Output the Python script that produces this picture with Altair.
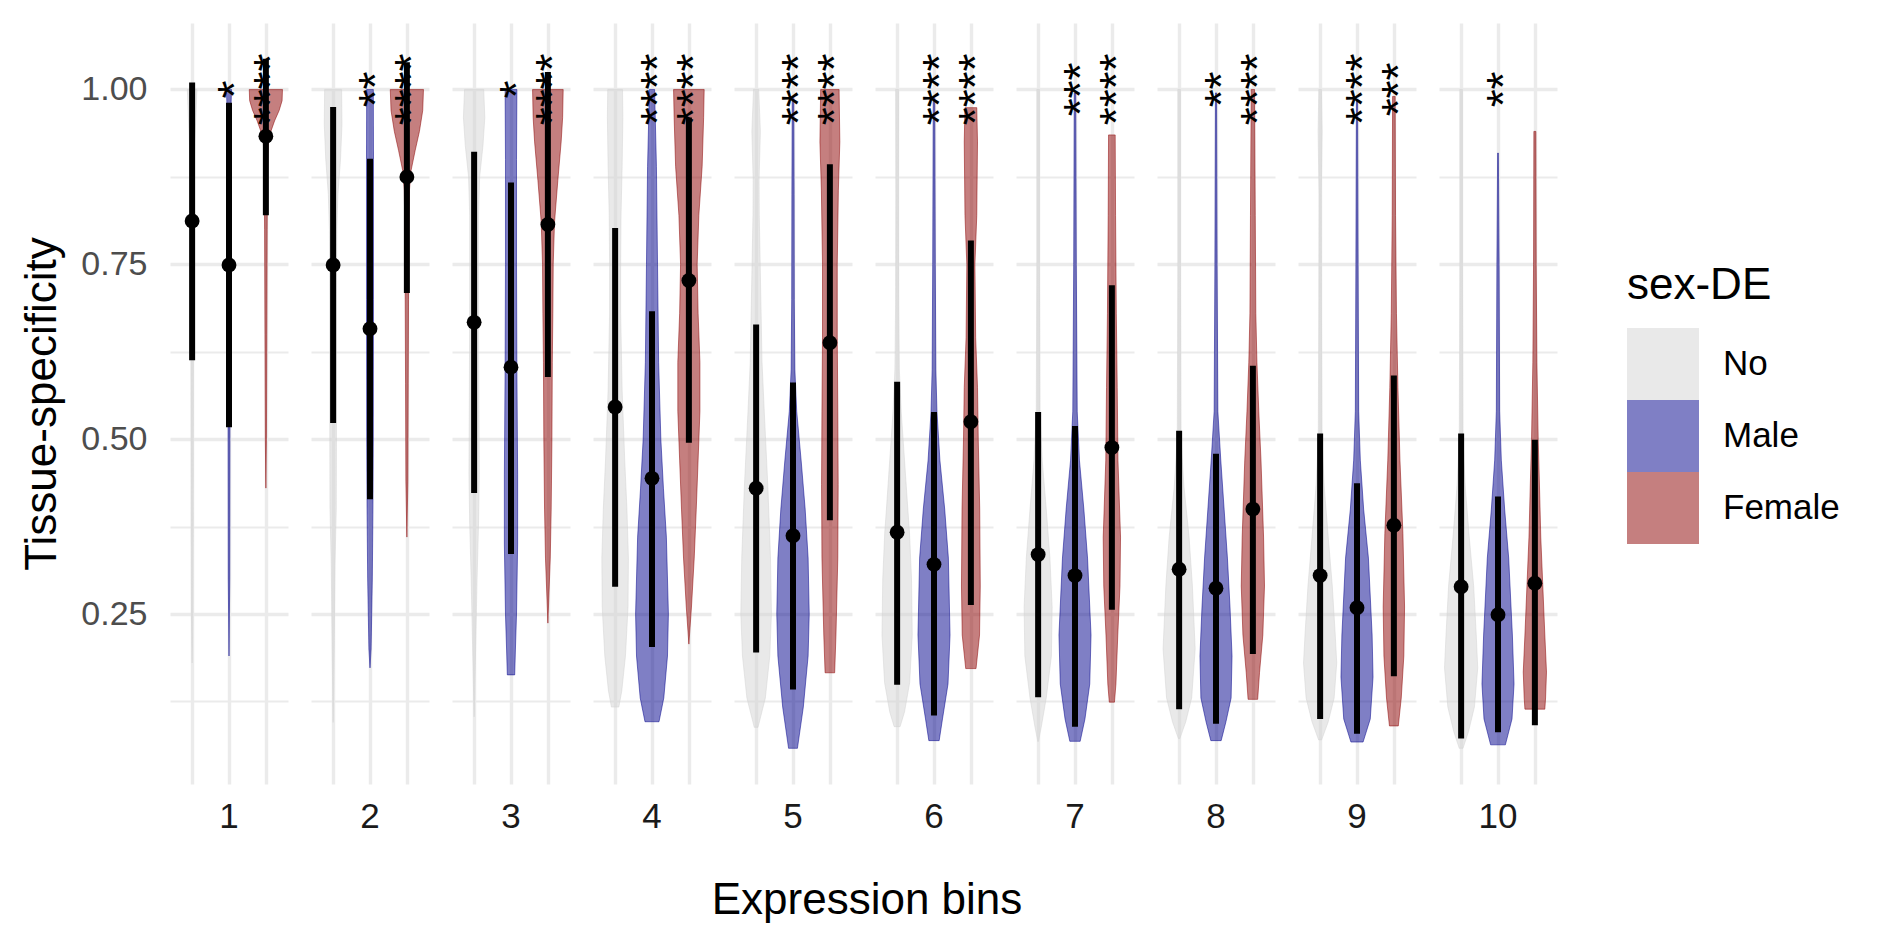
import altair as alt
import pandas as pd

BINS = list(range(1, 11))
SEXES = ["No", "Male", "Female"]
POSITIONS = [1, 2, 3]
FILLS = ["lightgrey", "darkblue", "darkred"]

# violin outlines: [value, half-width], one list per bin
NO_PROFILES = [
    [[1.0, 0.13], [0.96, 0.10], [0.92, 0.07], [0.85, 0.045], [0.70, 0.035], [0.50, 0.03], [0.35, 0.025], [0.25, 0.02], [0.18, 0.0]],
    [[1.0, 0.23], [0.95, 0.24], [0.9, 0.2], [0.85, 0.13], [0.8, 0.1], [0.7, 0.09], [0.5, 0.09], [0.4, 0.085], [0.32, 0.05], [0.2, 0.027], [0.095, 0.0]],
    [[1.0, 0.26], [0.96, 0.29], [0.92, 0.24], [0.875, 0.15], [0.82, 0.12], [0.7, 0.12], [0.55, 0.13], [0.45, 0.14], [0.38, 0.12], [0.3, 0.08], [0.2, 0.04], [0.103, 0.0]],
    [[1.0, 0.2], [0.96, 0.21], [0.89, 0.19], [0.82, 0.16], [0.75, 0.15], [0.68, 0.15], [0.57, 0.19], [0.47, 0.26], [0.4, 0.32], [0.33, 0.36], [0.26, 0.35], [0.19, 0.28], [0.14, 0.18], [0.117, 0.1]],
    [[1.0, 0.07], [0.94, 0.115], [0.87, 0.08], [0.82, 0.085], [0.61, 0.16], [0.54, 0.22], [0.43, 0.32], [0.33, 0.39], [0.25, 0.415], [0.19, 0.37], [0.13, 0.25], [0.088, 0.05]],
    [[1.0, 0.04], [0.85, 0.035], [0.7, 0.04], [0.6, 0.06], [0.54, 0.11], [0.47, 0.2], [0.4, 0.29], [0.367, 0.335], [0.3, 0.39], [0.22, 0.41], [0.152, 0.34], [0.11, 0.2], [0.089, 0.08]],
    [[1.0, 0.035], [0.75, 0.035], [0.54, 0.05], [0.47, 0.11], [0.4, 0.22], [0.33, 0.32], [0.26, 0.38], [0.19, 0.36], [0.13, 0.22], [0.09, 0.09], [0.068, 0.01]],
    [[1.0, 0.035], [0.75, 0.035], [0.5, 0.05], [0.433, 0.13], [0.36, 0.27], [0.29, 0.36], [0.2, 0.435], [0.13, 0.34], [0.096, 0.18], [0.072, 0.02]],
    [[1.0, 0.035], [0.94, 0.055], [0.85, 0.03], [0.7, 0.035], [0.5, 0.05], [0.433, 0.11], [0.36, 0.22], [0.29, 0.33], [0.22, 0.41], [0.18, 0.45], [0.13, 0.38], [0.096, 0.22], [0.07, 0.04]],
    [[1.0, 0.035], [0.75, 0.035], [0.5, 0.05], [0.433, 0.11], [0.36, 0.22], [0.29, 0.34], [0.22, 0.41], [0.173, 0.45], [0.117, 0.36], [0.082, 0.2], [0.058, 0.05]],
]
MALE_PROFILES = [
    [[1.0, 0.07], [0.97, 0.05], [0.9, 0.035], [0.7, 0.03], [0.5, 0.025], [0.3, 0.02], [0.19, 0.0]],
    [[1.0, 0.09], [0.9, 0.095], [0.7, 0.095], [0.5, 0.09], [0.4, 0.08], [0.3, 0.063], [0.2, 0.03], [0.173, 0.0]],
    [[1.0, 0.16], [0.9, 0.15], [0.75, 0.15], [0.6, 0.16], [0.45, 0.18], [0.35, 0.18], [0.25, 0.15], [0.2, 0.12], [0.163, 0.1]],
    [[1.0, 0.07], [0.89, 0.12], [0.75, 0.15], [0.61, 0.18], [0.5, 0.24], [0.43, 0.31], [0.36, 0.39], [0.25, 0.445], [0.19, 0.42], [0.13, 0.32], [0.096, 0.19]],
    [[0.99, 0.02], [0.85, 0.03], [0.7, 0.035], [0.6, 0.05], [0.54, 0.1], [0.47, 0.22], [0.4, 0.33], [0.33, 0.41], [0.25, 0.44], [0.19, 0.41], [0.117, 0.28], [0.058, 0.12]],
    [[0.988, 0.02], [0.75, 0.035], [0.6, 0.05], [0.54, 0.08], [0.47, 0.16], [0.4, 0.29], [0.33, 0.39], [0.22, 0.435], [0.15, 0.38], [0.1, 0.23], [0.069, 0.14]],
    [[0.995, 0.02], [0.75, 0.035], [0.54, 0.06], [0.47, 0.12], [0.4, 0.24], [0.33, 0.34], [0.22, 0.435], [0.15, 0.4], [0.1, 0.27], [0.068, 0.14]],
    [[0.995, 0.015], [0.75, 0.03], [0.54, 0.05], [0.47, 0.13], [0.4, 0.22], [0.33, 0.31], [0.26, 0.38], [0.19, 0.435], [0.13, 0.41], [0.096, 0.27], [0.069, 0.14]],
    [[0.985, 0.015], [0.75, 0.03], [0.54, 0.045], [0.47, 0.09], [0.4, 0.18], [0.33, 0.31], [0.22, 0.41], [0.16, 0.435], [0.1, 0.36], [0.067, 0.165]],
    [[0.909, 0.01], [0.75, 0.03], [0.54, 0.045], [0.47, 0.09], [0.4, 0.18], [0.33, 0.29], [0.22, 0.39], [0.15, 0.435], [0.1, 0.38], [0.063, 0.2]],
]
FEMALE_PROFILES = [
    [[1.0, 0.45], [0.984, 0.44], [0.97, 0.36], [0.955, 0.235], [0.94, 0.135], [0.927, 0.07], [0.89, 0.045], [0.8, 0.035], [0.65, 0.025], [0.5, 0.015], [0.43, 0.0]],
    [[1.0, 0.45], [0.97, 0.43], [0.94, 0.34], [0.913, 0.226], [0.884, 0.113], [0.856, 0.07], [0.794, 0.054], [0.7, 0.045], [0.58, 0.036], [0.44, 0.027], [0.36, 0.0]],
    [[1.0, 0.415], [0.96, 0.4], [0.925, 0.36], [0.87, 0.27], [0.81, 0.18], [0.75, 0.145], [0.68, 0.135], [0.61, 0.12], [0.5, 0.11], [0.4, 0.09], [0.33, 0.065], [0.237, 0.0]],
    [[1.0, 0.415], [0.96, 0.4], [0.89, 0.36], [0.82, 0.27], [0.75, 0.225], [0.68, 0.25], [0.61, 0.3], [0.54, 0.3], [0.47, 0.25], [0.4, 0.2], [0.33, 0.145], [0.26, 0.07], [0.207, 0.0]],
    [[1.0, 0.25], [0.925, 0.27], [0.855, 0.23], [0.75, 0.2], [0.645, 0.2], [0.54, 0.215], [0.435, 0.225], [0.33, 0.215], [0.22, 0.165], [0.166, 0.13]],
    [[0.974, 0.16], [0.925, 0.18], [0.82, 0.16], [0.75, 0.11], [0.645, 0.13], [0.574, 0.18], [0.5, 0.2], [0.4, 0.24], [0.29, 0.255], [0.22, 0.235], [0.172, 0.14]],
    [[0.935, 0.09], [0.82, 0.1], [0.68, 0.12], [0.574, 0.145], [0.47, 0.165], [0.36, 0.235], [0.29, 0.22], [0.22, 0.16], [0.15, 0.11], [0.124, 0.07]],
    [[1.0, 0.045], [0.82, 0.065], [0.68, 0.08], [0.61, 0.11], [0.54, 0.16], [0.47, 0.22], [0.36, 0.29], [0.29, 0.315], [0.22, 0.27], [0.166, 0.18], [0.128, 0.13]],
    [[0.99, 0.035], [0.82, 0.045], [0.68, 0.07], [0.574, 0.11], [0.47, 0.165], [0.365, 0.245], [0.26, 0.29], [0.19, 0.27], [0.13, 0.2], [0.09, 0.12]],
    [[0.94, 0.027], [0.75, 0.036], [0.61, 0.055], [0.5, 0.09], [0.433, 0.125], [0.36, 0.16], [0.29, 0.215], [0.22, 0.27], [0.167, 0.315], [0.13, 0.29], [0.114, 0.27]],
]

# point (median) and line range per bin
NO_MED = [0.812, 0.749, 0.667, 0.546, 0.43, 0.367, 0.335, 0.314, 0.305, 0.289]
NO_LO = [0.613, 0.523, 0.423, 0.289, 0.195, 0.149, 0.131, 0.114, 0.10, 0.072]
NO_HI = [1.01, 0.975, 0.911, 0.802, 0.664, 0.582, 0.539, 0.512, 0.508, 0.508]
MALE_MED = [0.749, 0.658, 0.603, 0.444, 0.362, 0.321, 0.305, 0.287, 0.259, 0.249]
MALE_LO = [0.517, 0.414, 0.336, 0.203, 0.142, 0.105, 0.089, 0.093, 0.079, 0.081]
MALE_HI = [0.981, 0.901, 0.867, 0.683, 0.581, 0.539, 0.519, 0.479, 0.437, 0.418]
FEMALE_MED = [0.933, 0.875, 0.807, 0.727, 0.638, 0.525, 0.488, 0.40, 0.377, 0.294]
FEMALE_LO = [0.82, 0.709, 0.589, 0.495, 0.384, 0.263, 0.256, 0.193, 0.161, 0.091]
FEMALE_HI = [1.044, 1.039, 1.025, 0.96, 0.893, 0.784, 0.72, 0.605, 0.591, 0.499]

NO_STARS = [""] * 10
MALE_STARS = ["*", "**", "*", "****", "****", "****", "***", "**", "****", "**"]
FEMALE_STARS = ["****", "****", "****", "****", "****", "****", "****", "****", "***", ""]
STAR_LEVEL = 1.0

Y_TICKS = [0.125, 0.25, 0.375, 0.5, 0.625, 0.75, 0.875, 1.0]

groups = [
    ("No", 1, NO_PROFILES, NO_MED, NO_LO, NO_HI, NO_STARS),
    ("Male", 2, MALE_PROFILES, MALE_MED, MALE_LO, MALE_HI, MALE_STARS),
    ("Female", 3, FEMALE_PROFILES, FEMALE_MED, FEMALE_LO, FEMALE_HI, FEMALE_STARS),
]

rows = []
for sex, pos, profiles, med, lo, hi, stars in groups:
    for i, b in enumerate(BINS):
        for y, hw in profiles[i]:
            rows.append({"kind": "v", "bin": b, "sex": sex, "vid": f"{b}-{sex}",
                         "pos": pos, "y": y, "xl": pos - hw, "xr": pos + hw})
        rows.append({"kind": "s", "bin": b, "sex": sex, "vid": f"{b}-{sex}", "pos": pos,
                     "med": med[i], "lo": lo[i], "hi": hi[i], "stars": stars[i]})
df = pd.DataFrame(rows)

FONT = "Liberation Sans"
GRID = "#EBEBEB"

x_scale = alt.Scale(domain=[0.4, 3.6], nice=False, zero=False)
x_axis = alt.Axis(values=POSITIONS, labels=False, ticks=False, domain=False, title=None,
                  gridColor=GRID, gridWidth=3.4)
y_scale = alt.Scale(domain=[0.007, 1.095], nice=False, zero=False)
y_axis = alt.Axis(
    values=Y_TICKS,
    labelExpr="datum.value % 0.25 == 0 ? format(datum.value, '.2f') : ''",
    gridColor=GRID,
    gridWidth={"condition": {"test": "datum.value % 0.25 == 0", "value": 3.4}, "value": 1.9},
    ticks=False, domain=False,
    labelFontSize=34, labelColor="#4D4D4D", labelPadding=23,
    title="Tissue-specificity", titleFontSize=44, titleFontWeight="normal",
    titleColor="black", titlePadding=16,
)

fill_scale = alt.Scale(domain=SEXES, range=FILLS)

violin = alt.Chart().transform_filter("datum.kind == 'v'").mark_area(
    orient="horizontal", fillOpacity=0.5, strokeOpacity=0.5, strokeWidth=1
).encode(
    y=alt.Y("y:Q", scale=y_scale, axis=y_axis),
    x=alt.X("xl:Q", scale=x_scale, axis=x_axis),
    x2="xr:Q",
    color=alt.Color(
        "sex:N",
        scale=fill_scale,
        legend=alt.Legend(
            title="sex-DE", orient="none", legendX=1457, legendY=241,
            symbolType="square", symbolSize=5184, symbolStrokeWidth=0, symbolOpacity=0.5,
            labelFontSize=35, labelColor="black", labelOffset=24,
            titleFontSize=44, titleFontWeight="normal", titleColor="black",
            titlePadding=20, rowPadding=0, padding=0,
        ),
    ),
    stroke=alt.Stroke("sex:N", scale=fill_scale, legend=None),
    detail="vid:N",
)

summ = alt.Chart().transform_filter("datum.kind == 's'")

ranges = summ.mark_rule(color="black", strokeWidth=6).encode(
    x=alt.X("pos:Q", scale=x_scale, axis=x_axis),
    y=alt.Y("lo:Q", scale=y_scale, axis=y_axis),
    y2="hi:Q",
)
points = summ.mark_circle(color="black", size=220, opacity=1).encode(
    x=alt.X("pos:Q", scale=x_scale, axis=x_axis),
    y=alt.Y("med:Q", scale=y_scale, axis=y_axis),
)
stars = summ.mark_text(
    angle=270, fontSize=46, baseline="middle", align="center", dy=6.5, color="black", font=FONT
).encode(
    x=alt.X("pos:Q", scale=x_scale, axis=x_axis),
    y=alt.Y(datum=STAR_LEVEL, scale=y_scale, axis=y_axis),
    text="stars:N",
)

chart = alt.layer(violin, ranges, points, stars, data=df).properties(
    width=118, height=761
).facet(
    column=alt.Column(
        "bin:O",
        title="Expression bins",
        header=alt.Header(
            labelOrient="bottom", titleOrient="bottom",
            labelFontSize=35, labelColor="#1A1A1A", labelFont=FONT, labelPadding=16,
            titleFontSize=44, titleFontWeight="normal", titleColor="black", titleFont=FONT,
            titlePadding=34,
        ),
    ),
    spacing=23,
    bounds="flush",
).properties(
    padding={"left": 20, "top": 23, "right": 0, "bottom": 0}
).configure(
    font=FONT
).configure_view(
    stroke=None
)

chart.save("out.html", embed_options={"renderer": "svg", "actions": False})
